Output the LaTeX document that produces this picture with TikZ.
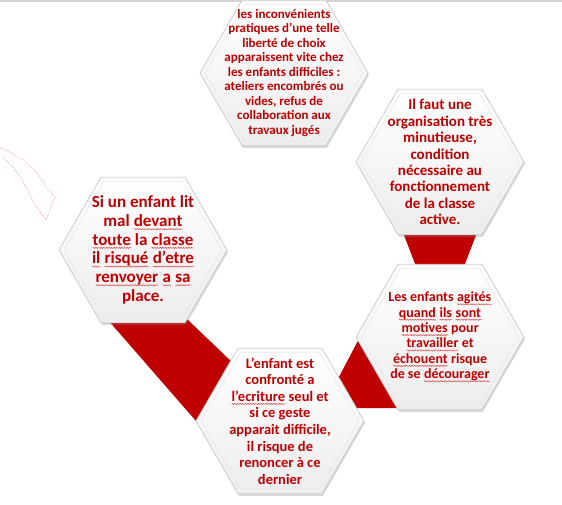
\documentclass[tikz,border=0pt]{standalone}
\usepackage{fontspec}
\setmainfont{Carlito}
\usetikzlibrary{shapes.geometric,shadows,calc,decorations.pathmorphing}
\definecolor{tred}{RGB}{192,0,0}
\definecolor{band}{RGB}{192,0,0}
\definecolor{squig}{RGB}{232,70,70}
\definecolor{faint}{RGB}{240,160,175}
\newcommand\sq[1]{\tikz[baseline=(sqw.base)]{\node[inner sep=0pt,outer sep=0pt] (sqw) {#1};\draw[squig, line width=0.5pt, decorate, decoration={snake, amplitude=0.6pt, segment length=2.6pt}] ([yshift=-2.6pt]sqw.base west) -- ([yshift=-2.6pt]sqw.base east);}}
\pgfdeclarelayer{bg}
\pgfsetlayers{bg,main}
\tikzset{
  hexshape/.style={regular polygon, regular polygon sides=6, minimum size=168pt,
    inner sep=0pt, draw=gray!40, line width=0.8pt, top color=white, bottom color=gray!14,
    drop shadow={shadow xshift=1pt, shadow yshift=-2pt, opacity=.3, fill=gray}},
  hexbevel/.style={regular polygon, regular polygon sides=6, minimum size=158pt,
    inner sep=0pt, draw=gray!18, line width=0.6pt},
  hextext/.style={align=center, text=tred, inner sep=0pt},
  bandfill/.style={fill=band, draw=none},
}
\begin{document}
\begin{tikzpicture}[x=1pt,y=-1pt]
\useasboundingbox (0,0) rectangle (562,504);
\draw[gray!35, line width=2pt] (0,1) -- (562,1);
\draw[faint, densely dotted, line width=0.7pt] (0,148) .. controls (25,157) and (38,172) .. (46,187) -- (55,197) -- (46,220) -- (33,202) .. controls (26,185) and (15,166) .. (2,157);

\node[hexshape] (T) at (284,73) {};
\node[hexshape] (R1) at (440,162) {};
\node[hexshape] (R2) at (440,337) {};
\node[hexshape] (B) at (280,421) {};
\node[hexshape] (L) at (143,250) {};
\node[hexbevel] (Tb) at (T) {};
\node[hexbevel] (R1b) at (R1) {};
\node[hexbevel] (R2b) at (R2) {};
\node[hexbevel] (Bb) at (B) {};
\node[hexbevel] (Lb) at (L) {};

\begin{pgfonlayer}{bg}
\fill[bandfill] ($(R1)+(-38,68)$) -- ($(R1)+(38,68)$) -- ($(R2)+(23,-68)$) -- ($(R2)+(-23,-68)$) -- cycle;
\fill[bandfill] ($(L)+(-35,70)$) -- ($(L)+(45,70)$) -- ($(B)+(-46,-57)$) -- ($(B)+(-84,0)$) -- cycle;
\fill[bandfill] ($(R2)+(-79,-2)$) -- ($(B)+(50,-27)$) -- ($(B)+(65,-13)$) -- ($(R2)+(-30,71)$) -- cycle;
\end{pgfonlayer}

\node[hextext, font=\fontsize{13}{14.5}\selectfont\bfseries] (Tt) at (T) {les inconvénients\\pratiques d’une telle\\liberté de choix\\apparaissent vite chez\\les enfants difficiles :\\ateliers encombrés ou\\vides, refus de\\collaboration aux\\travaux jugés};
\node[hextext, font=\fontsize{15}{16.4}\selectfont\bfseries] (R1t) at (R1) {Il faut une\\organisation très\\minutieuse,\\condition\\nécessaire au\\fonctionnement\\de la classe\\active.};
\node[hextext, font=\fontsize{14}{15.4}\selectfont\bfseries] (R2t) at (R2) {Les enfants \sq{agités}\\\sq{quand} \sq{ils} \sq{sont}\\\sq{motives} pour\\\sq{travailler} et\\\sq{échouent} risque\\de se \sq{décourager}};
\node[hextext, font=\fontsize{14.5}{16.6}\selectfont\bfseries] (Bt) at (B) {L’enfant est\\confronté a\\\sq{l’ecriture} seul et\\si ce geste\\apparait difficile,\\il risque de\\renoncer à ce\\dernier};
\node[hextext, font=\fontsize{17}{18.7}\selectfont\bfseries] (Lt) at (L) {Si un enfant lit\\mal \sq{devant}\\\sq{toute} la \sq{classe}\\\sq{il} \sq{risqué} \sq{d’etre}\\\sq{renvoyer} \sq{a} \sq{sa}\\place.};
\end{tikzpicture}
\end{document}
